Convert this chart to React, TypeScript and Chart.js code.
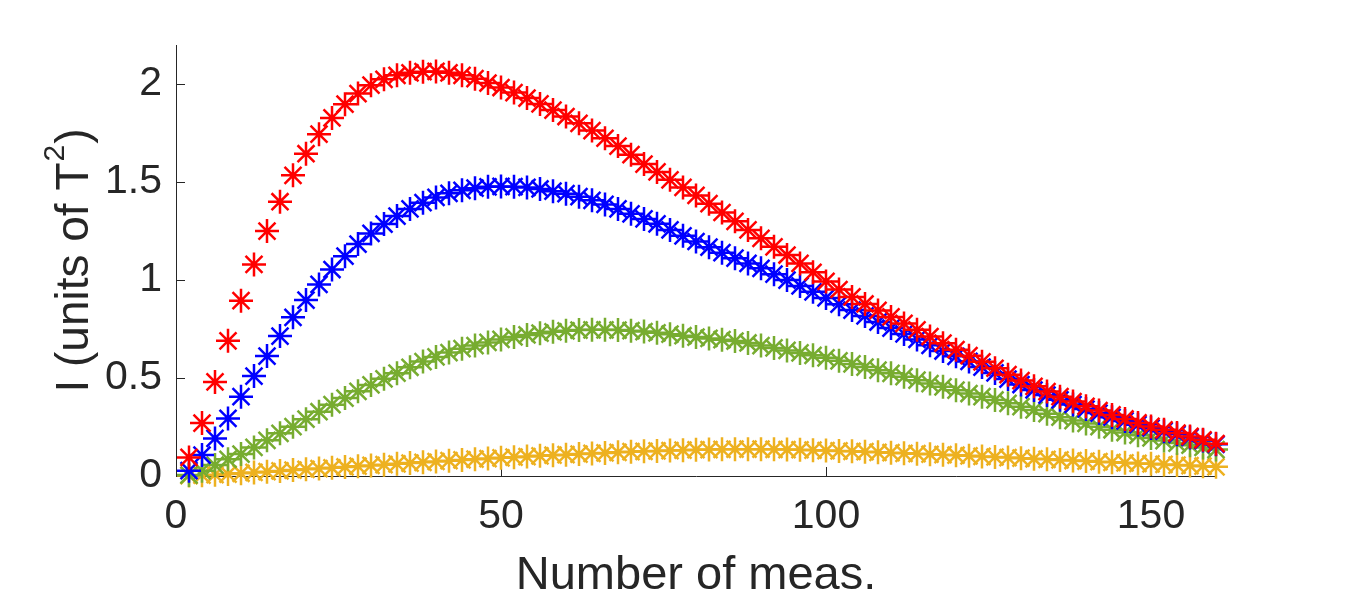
import { useEffect, useRef } from "react";
import { Chart, registerables } from "chart.js";

Chart.register(...registerables);

// measurement counts on the x axis
const measCounts = [
  2, 4, 6, 8, 10, 12, 14, 16, 18, 20, 22, 24, 26, 28, 30, 32, 34, 36, 38, 40,
  42, 44, 46, 48, 50, 52, 54, 56, 58, 60, 62, 64, 66, 68, 70, 72, 74, 76, 78, 80,
  82, 84, 86, 88, 90, 92, 94, 96, 98, 100, 102, 104, 106, 108, 110, 112, 114, 116, 118, 120,
  122, 124, 126, 128, 130, 132, 134, 136, 138, 140, 142, 144, 146, 148, 150, 152, 154, 156, 158, 160,
];

const redValues = [
  0.095, 0.27, 0.48, 0.69, 0.895, 1.08, 1.25, 1.4, 1.535, 1.645,
  1.745, 1.828, 1.898, 1.952, 1.995, 2.025, 2.045, 2.058, 2.064, 2.065,
  2.058, 2.045, 2.028, 2.006, 1.983, 1.957, 1.929, 1.899, 1.868, 1.835,
  1.8, 1.763, 1.724, 1.684, 1.64, 1.592, 1.552, 1.512, 1.473, 1.432,
  1.39, 1.345, 1.3, 1.256, 1.213, 1.17, 1.128, 1.085, 1.04, 0.993,
  0.952, 0.914, 0.878, 0.845, 0.812, 0.779, 0.746, 0.712, 0.678, 0.645,
  0.614, 0.583, 0.55, 0.517, 0.487, 0.458, 0.431, 0.405, 0.38, 0.356,
  0.334, 0.312, 0.291, 0.271, 0.253, 0.236, 0.219, 0.202, 0.185, 0.165,
];

const blueValues = [
  0.027, 0.107, 0.192, 0.294, 0.405, 0.51, 0.612, 0.714, 0.81, 0.898,
  0.978, 1.054, 1.122, 1.184, 1.238, 1.286, 1.327, 1.363, 1.395, 1.422,
  1.443, 1.458, 1.469, 1.476, 1.478, 1.477, 1.473, 1.465, 1.454, 1.441,
  1.426, 1.407, 1.386, 1.363, 1.338, 1.312, 1.287, 1.256, 1.226, 1.197,
  1.168, 1.14, 1.112, 1.085, 1.06, 1.03, 1.0, 0.97, 0.94, 0.909,
  0.877, 0.847, 0.817, 0.786, 0.755, 0.725, 0.697, 0.667, 0.638, 0.611,
  0.585, 0.556, 0.526, 0.495, 0.467, 0.439, 0.413, 0.389, 0.365, 0.342,
  0.321, 0.3, 0.281, 0.262, 0.245, 0.229, 0.213, 0.197, 0.181, 0.162,
];

const greenValues = [
  0.005, 0.027, 0.056, 0.085, 0.112, 0.146, 0.182, 0.218, 0.252, 0.29,
  0.328, 0.364, 0.398, 0.432, 0.465, 0.496, 0.525, 0.555, 0.584, 0.608,
  0.63, 0.65, 0.666, 0.682, 0.697, 0.71, 0.72, 0.729, 0.736, 0.741,
  0.745, 0.746, 0.746, 0.745, 0.742, 0.737, 0.731, 0.724, 0.716, 0.709,
  0.702, 0.696, 0.689, 0.679, 0.666, 0.654, 0.641, 0.628, 0.616, 0.603,
  0.588, 0.572, 0.556, 0.54, 0.524, 0.507, 0.489, 0.472, 0.455, 0.438,
  0.421, 0.405, 0.388, 0.371, 0.354, 0.337, 0.318, 0.3, 0.283, 0.268,
  0.252, 0.236, 0.222, 0.208, 0.194, 0.181, 0.168, 0.157, 0.146, 0.135,
];

const yellowValues = [
  0.002, 0.004, 0.007, 0.01, 0.014, 0.018, 0.022, 0.026, 0.03, 0.034,
  0.038, 0.042, 0.046, 0.05, 0.054, 0.058, 0.062, 0.066, 0.07, 0.074,
  0.078, 0.082, 0.086, 0.089, 0.093, 0.096, 0.099, 0.103, 0.106, 0.109,
  0.112, 0.115, 0.118, 0.121, 0.124, 0.126, 0.128, 0.13, 0.132, 0.134,
  0.135, 0.136, 0.137, 0.137, 0.137, 0.136, 0.135, 0.134, 0.132, 0.13,
  0.128, 0.126, 0.124, 0.121, 0.119, 0.116, 0.114, 0.111, 0.109, 0.106,
  0.103, 0.1, 0.097, 0.094, 0.091, 0.088, 0.085, 0.082, 0.079, 0.076,
  0.073, 0.07, 0.067, 0.064, 0.062, 0.059, 0.056, 0.053, 0.05, 0.047,
];

const xTicks = [0, 50, 100, 150];
const yTicks = [0, 0.5, 1, 1.5, 2];

// y label pieces: main text, superscript, closing paren
const yLabelMain = "I (units of T";
const yLabelSup = "2";
const yLabelEnd = ")";

const AXIS_COLOR = "#262626";
const FONT = "'Liberation Sans', Arial, sans-serif";

// MATLAB-style tick marks pointing into the plot area
const inwardTicks = {
  id: "inwardTicks",
  beforeDatasetsDraw(chart: any) {
    const { ctx, chartArea, scales } = chart;
    ctx.save();
    ctx.strokeStyle = AXIS_COLOR;
    ctx.lineWidth = 1;
    ctx.beginPath();
    scales.x.ticks.forEach((t: any) => {
      const px = Math.round(scales.x.getPixelForValue(t.value)) + 0.5;
      ctx.moveTo(px, chartArea.bottom);
      ctx.lineTo(px, chartArea.bottom - 9);
    });
    scales.y.ticks.forEach((t: any) => {
      const py = Math.round(scales.y.getPixelForValue(t.value)) + 0.5;
      ctx.moveTo(chartArea.left, py);
      ctx.lineTo(chartArea.left + 9, py);
    });
    ctx.stroke();
    ctx.restore();
  },
};

// rotated y label with a real superscript
const yLabelPlugin = {
  id: "yLabel",
  afterDraw(chart: any) {
    const { ctx, chartArea } = chart;
    const mainFont = `46px ${FONT}`;
    const supFont = `30px ${FONT}`;
    ctx.save();
    ctx.font = mainFont;
    const wMain = ctx.measureText(yLabelMain).width;
    const wEnd = ctx.measureText(yLabelEnd).width;
    ctx.font = supFont;
    const wSup = ctx.measureText(yLabelSup).width;
    const total = wMain + wSup + 2 + wEnd;
    ctx.translate(88, (chartArea.top + chartArea.bottom) / 2);
    ctx.rotate(-Math.PI / 2);
    ctx.fillStyle = AXIS_COLOR;
    ctx.textBaseline = "alphabetic";
    ctx.textAlign = "left";
    let x = -total / 2;
    ctx.font = mainFont;
    ctx.fillText(yLabelMain, x, 0);
    x += wMain + 1;
    ctx.font = supFont;
    ctx.fillText(yLabelSup, x, -24);
    x += wSup + 1;
    ctx.font = mainFont;
    ctx.fillText(yLabelEnd, x, 0);
    ctx.restore();
  },
};

const series = [
  { label: "red", values: redValues, color: "#FF0000" },
  { label: "blue", values: blueValues, color: "#0000FF" },
  { label: "green", values: greenValues, color: "#77AC30" },
  { label: "yellow", values: yellowValues, color: "#EDB120" },
];

const IntensityChart = () => {
  const chartRef = useRef<HTMLCanvasElement | null>(null);
  const chartInstanceRef = useRef<Chart | null>(null);

  useEffect(() => {
    document.body.style.margin = "0";
    if (!chartRef.current) return;
    if (chartInstanceRef.current) chartInstanceRef.current.destroy();

    chartInstanceRef.current = new Chart(chartRef.current, {
      type: "scatter",
      data: {
        datasets: series.map((s) => ({
          label: s.label,
          data: measCounts.map((x, i) => ({ x, y: s.values[i] })),
          showLine: false,
          pointStyle: "star",
          pointRadius: 12,
          pointHoverRadius: 12,
          pointBorderWidth: 2.5,
          borderColor: s.color,
          backgroundColor: s.color,
          clip: false,
        })),
      },
      options: {
        responsive: false,
        animation: false,
        events: [],
        layout: { padding: { left: 0, top: 45, right: 130, bottom: 0 } },
        plugins: {
          legend: { display: false },
          tooltip: { enabled: false },
        },
        scales: {
          x: {
            type: "linear",
            min: 0,
            max: 160,
            afterFit: (scale: any) => {
              scale.height = 128;
            },
            afterBuildTicks: (scale: any) => {
              scale.ticks = xTicks.map((v) => ({ value: v }));
            },
            grid: { display: false, drawTicks: false },
            border: { display: true, color: AXIS_COLOR, width: 1 },
            ticks: {
              color: AXIS_COLOR,
              padding: 16,
              maxRotation: 0,
              font: { family: FONT, size: 41 },
              callback: (v: any) => String(v),
            },
            title: {
              display: true,
              text: "Number of meas.",
              color: AXIS_COLOR,
              font: { family: FONT, size: 47 },
              padding: { top: 0, bottom: 0 },
            },
          },
          y: {
            type: "linear",
            min: 0,
            max: 2.2,
            afterFit: (scale: any) => {
              scale.width = 176;
            },
            afterBuildTicks: (scale: any) => {
              scale.ticks = yTicks.map((v) => ({ value: v }));
            },
            grid: { display: false, drawTicks: false },
            border: { display: true, color: AXIS_COLOR, width: 1 },
            ticks: {
              color: AXIS_COLOR,
              padding: 14,
              font: { family: FONT, size: 41 },
              callback: (v: any) => String(v),
            },
            title: { display: false },
          },
        },
      },
      plugins: [inwardTicks, yLabelPlugin],
    });

    return () => {
      if (chartInstanceRef.current) {
        chartInstanceRef.current.destroy();
        chartInstanceRef.current = null;
      }
    };
  }, []);

  return (
    <div style={{ width: 1346, height: 604, background: "#fff" }}>
      <canvas ref={chartRef} width={1346} height={604} />
    </div>
  );
};

export default function App() {
  return <IntensityChart />;
}
